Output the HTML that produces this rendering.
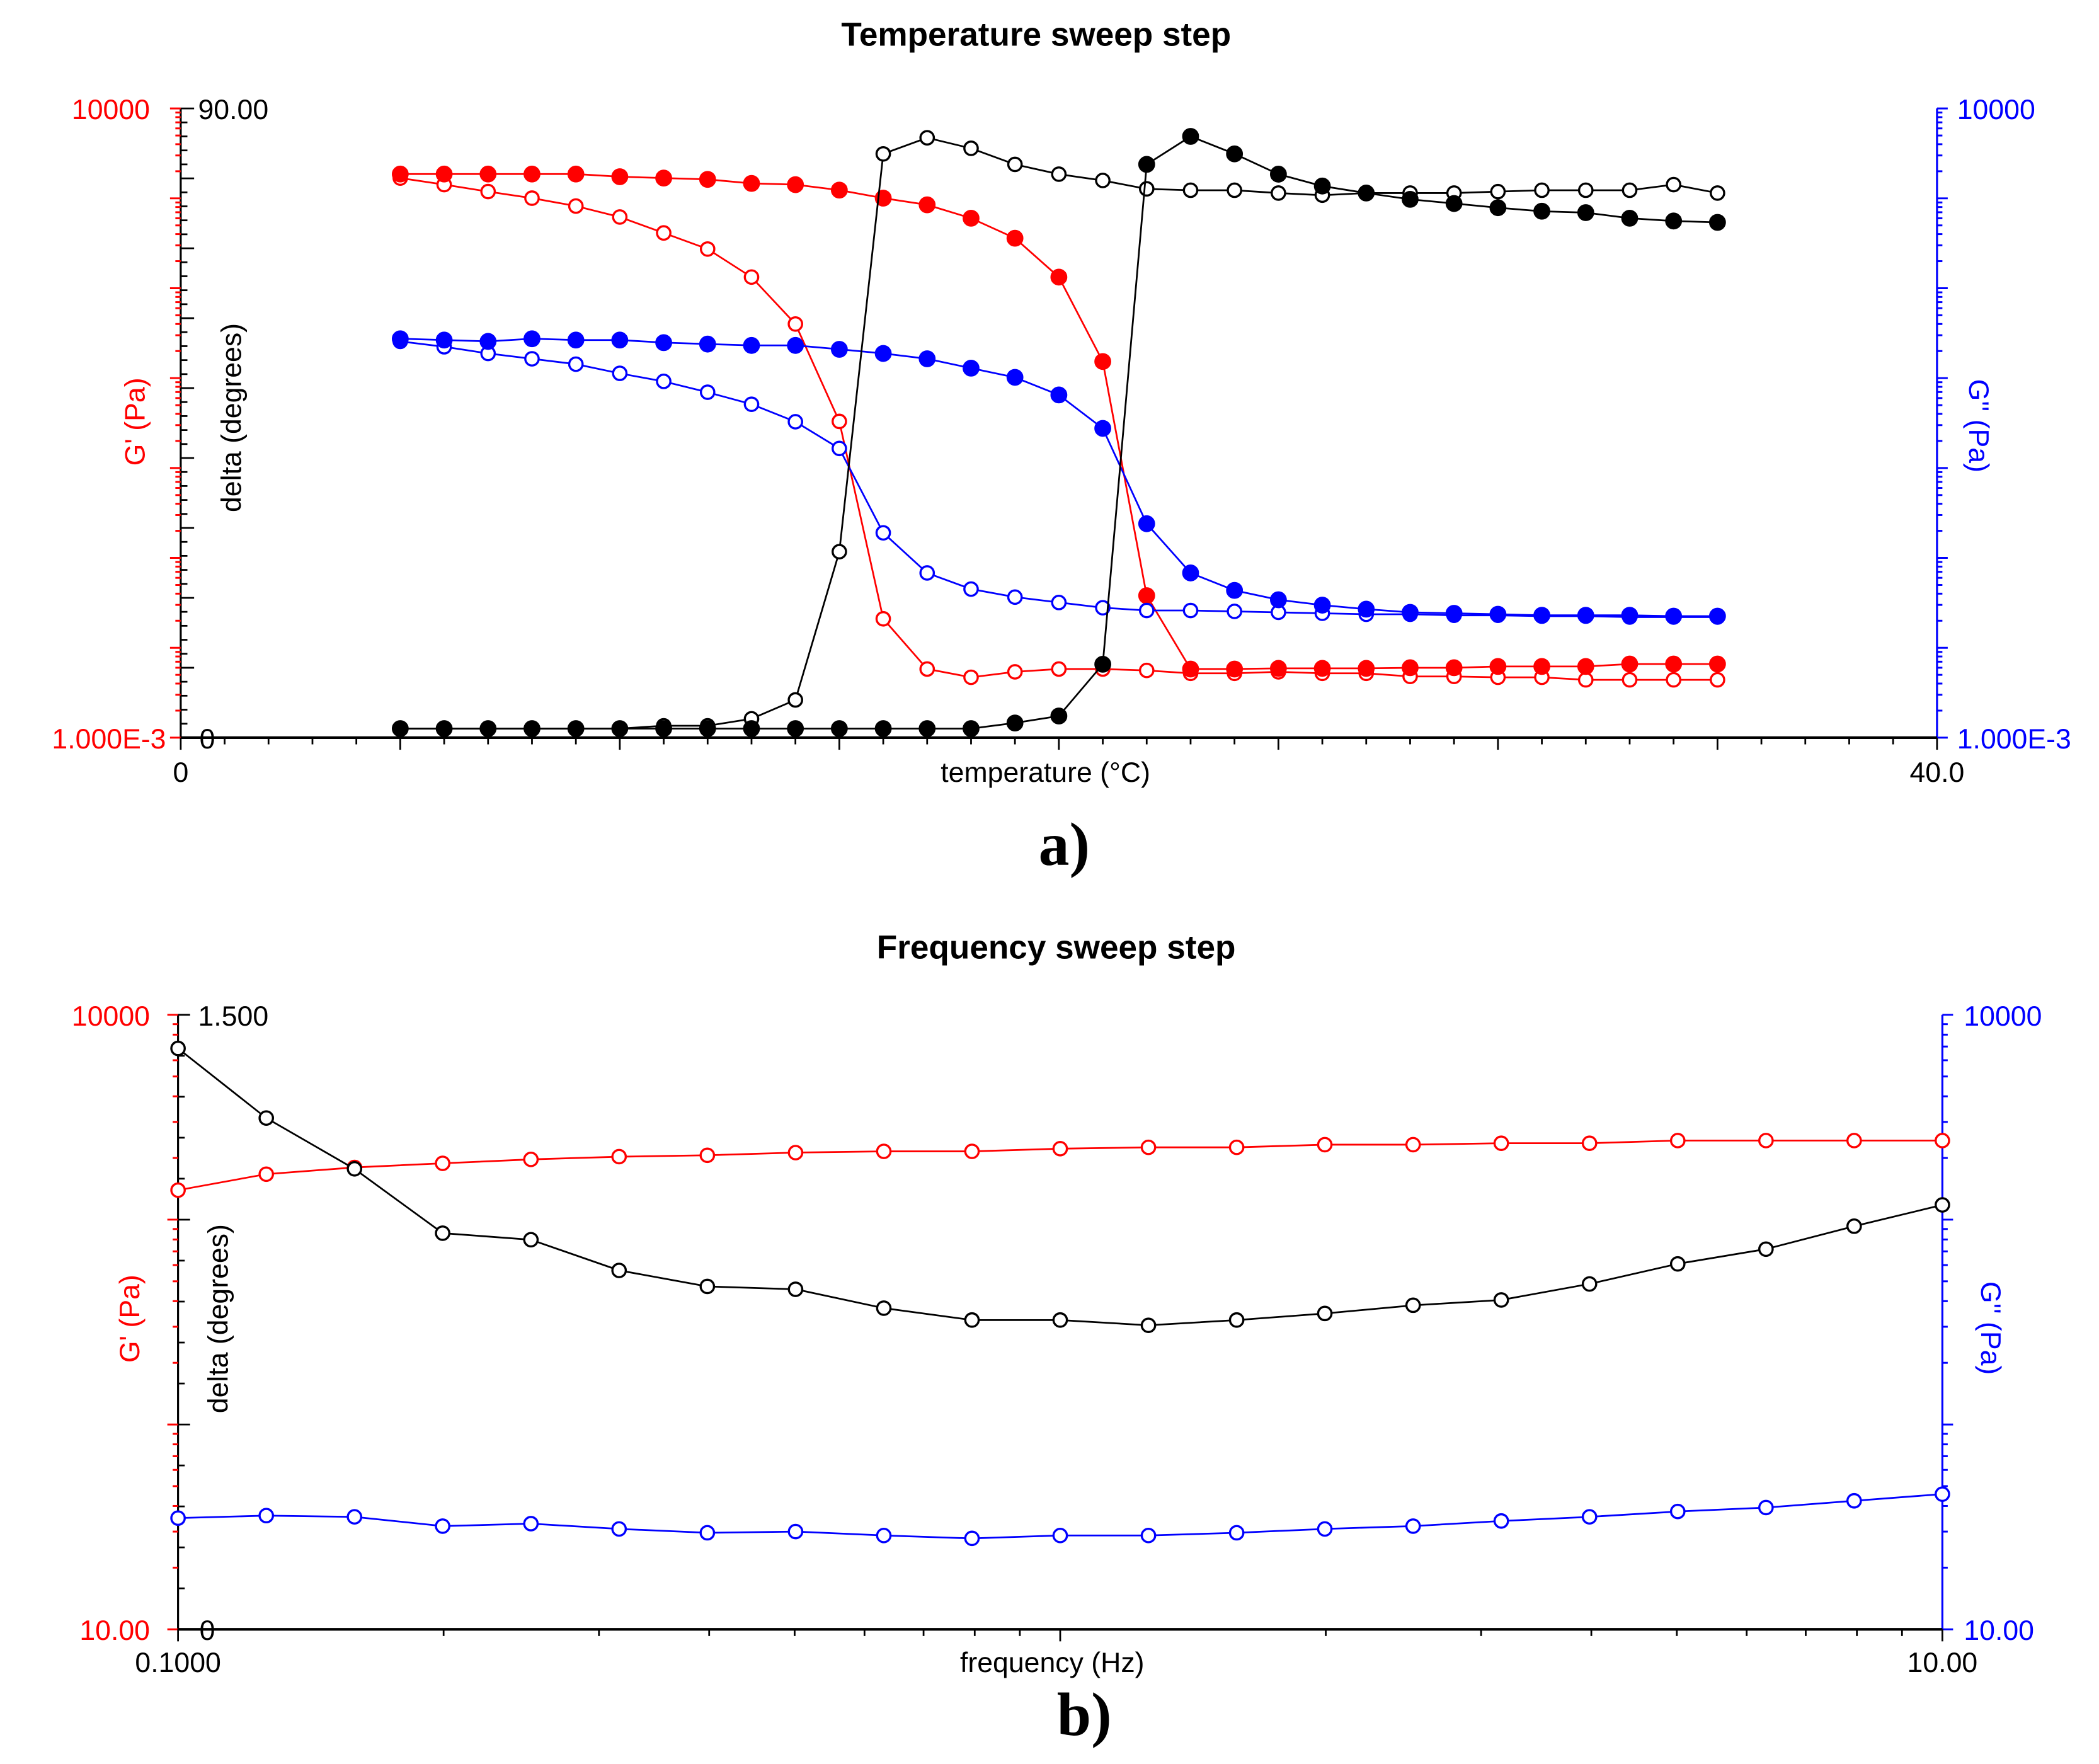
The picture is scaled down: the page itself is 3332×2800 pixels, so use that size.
<!DOCTYPE html>
<html><head><meta charset="utf-8"><style>
html,body{margin:0;padding:0;background:#fff;}
svg{display:block;}
text{font-family:"Liberation Sans",sans-serif;}
</style></head><body>
<svg id="s" width="3332" height="2800" viewBox="0 0 1568 1317.6" preserveAspectRatio="none" xmlns="http://www.w3.org/2000/svg">
<g id="gA"></g>
<g id="gB"></g>
</svg>
<script>
// ---------- Chart a data (temperature sweep) ----------
const tempC = [5,6,7,8,9,10,11,12,13,14,15,16,17,18,19,20,21,22,23,24,25,26,27,28,29,30,31,32,33,34,35];
const gpHeat = [1680,1420,1190,1005,820,620,412,273,133,40,3.3,0.021,0.0058,0.0047,0.0054,0.0058,0.0058,0.0056,0.0052,0.0052,0.0054,0.0052,0.0052,0.0048,0.0048,0.0047,0.0047,0.0044,0.0044,0.0044,0.0044];
const gpCool = [1862,1862,1862,1862,1862,1740,1680,1625,1465,1420,1235,1005,847,601,360,133,15.3,0.038,0.0058,0.0058,0.0059,0.0059,0.0059,0.0060,0.0060,0.0062,0.0062,0.0062,0.0066,0.0066,0.0066];
const gppHeat = [25.6,22.3,18.8,16.4,14.3,11.3,9.2,6.97,5.12,3.27,1.65,0.19,0.068,0.045,0.0366,0.0319,0.0279,0.026,0.026,0.0254,0.0248,0.0242,0.0236,0.0236,0.023,0.023,0.0225,0.0225,0.022,0.022,0.022];
const gppCool = [27.4,26.5,25.6,27.4,26.5,26.5,24.8,23.9,23.1,23.1,20.9,18.8,16.4,12.9,10.2,6.5,2.76,0.24,0.068,0.0435,0.0342,0.0298,0.0269,0.0248,0.0242,0.0236,0.023,0.023,0.023,0.0225,0.0225];
const deltaHeat = [1.3,1.3,1.3,1.3,1.3,1.3,1.7,1.7,2.7,5.4,26.6,83.5,85.8,84.3,82.0,80.6,79.7,78.5,78.3,78.3,77.9,77.6,77.9,77.9,77.9,78.1,78.3,78.3,78.3,79.1,77.9];
const deltaCool = [1.3,1.3,1.3,1.3,1.3,1.3,1.3,1.3,1.3,1.3,1.3,1.3,1.3,1.3,2.1,3.1,10.5,82.0,86.0,83.5,80.6,78.9,77.9,77.0,76.4,75.8,75.3,75.1,74.3,73.9,73.7];
const xTicksA = ["0","40.0"];
// ---------- Chart b data (frequency sweep) ----------
const freqHz = [0.1,0.1259,0.1585,0.1995,0.2512,0.3162,0.3981,0.5012,0.631,0.7943,1,1.259,1.585,1.995,2.512,3.162,3.981,5.012,6.31,7.943,10];
const gpFreq = [1393,1667,1798,1883,1968,2030,2061,2124,2155,2155,2220,2254,2254,2323,2323,2360,2360,2432,2432,2432,2432];
const gppFreq = [34.9,35.9,35.4,31.9,32.8,30.9,29.6,30.0,28.7,27.8,28.7,28.7,29.6,30.9,31.9,33.8,35.4,37.6,39.3,42.4,45.7];
const deltaFreq = [1.418,1.248,1.124,0.967,0.951,0.876,0.837,0.830,0.784,0.755,0.755,0.742,0.755,0.771,0.791,0.804,0.843,0.892,0.928,0.984,1.036];

const NS="http://www.w3.org/2000/svg";
function el(parent,tag,attrs,txt){const e=document.createElementNS(NS,tag);for(const k in attrs)e.setAttribute(k,attrs[k]);if(txt!==undefined)e.textContent=txt;parent.appendChild(e);return e;}
function line(p,x1,y1,x2,y2,c,w){return el(p,'line',{x1,y1,x2,y2,stroke:c,'stroke-width':w||1.5});}
function txt(p,x,y,s,c,size,anchor,name,extra){const t=el(p,'text',Object.assign({x,y,fill:c,'font-size':size,'text-anchor':anchor||'start'},extra||{}),s);return t;}

function series(p,xs,ys,xf,yf,color,filled,name){
  const g=el(p,'g',{});
  
  
  const pts=xs.map((x,i)=>xf(x).toFixed(1)+','+yf(ys[i]).toFixed(1)).join(' ');
  el(g,'polyline',{points:pts,fill:'none',stroke:color,'stroke-width':1.3});
  xs.forEach((x,i)=>{
    const c=el(g,'circle',{cx:xf(x),cy:yf(ys[i]),r:filled?5.5:5,fill:filled?color:'#fff',stroke:color,'stroke-width':1.6});
    
    
  });
}
function logTicks(p,x,yf,lo,hi,color,dir){
  for(let d=lo;d<=hi;d++){
    for(let m=1;m<=9;m++){
      const v=Math.pow(10,d)*m; if(d===hi&&m>1)break;
      const y=yf(v); const L=m===1?8:4;
      line(p,x,y,x+dir*L,y,color,1.4);
    }
  }
}
const SERIF='font-family:"Liberation Serif",serif;font-weight:bold;';

// ================= Chart A =================
(function(){
  const g=document.getElementById('gA');
  const L=135,R=1447,T=81,B=551;
  const xf=t=>L+(t-0)/(40-0)*(R-L);
  const yLog=v=>B-(Math.log10(v)-(-3))/7*(B-T);
  const yD=v=>B-v/90*(B-T);
  txt(g,774,34,'Temperature sweep step','#000',25,'middle','chart-a-title',{'font-weight':'bold'});
  line(g,L,T,L,B,'#000',1.5);
  line(g,R,T,R,B,'#00f',1.5);
  line(g,L,B,R,B,'#000',2);
  logTicks(g,L,yLog,-3,4,'#f00',-1);
  logTicks(g,R,yLog,-3,4,'#00f',1);
  for(let d=0;d<=90;d+=2){const y=yD(d);line(g,L,y,L+(d%10===0?10:5),y,'#000',1.3);}
  for(let t=0;t<=40;t++){const x=xf(t);line(g,x,B,x,B+(t%5===0?9:5),'#000',1.3);}
  txt(g,112,89,'10000','#f00',21,'end','left-axis-max-label');
  txt(g,148,89,'90.00','#000',21,'start','delta-axis-max-label');
  txt(g,124,559,'1.000E-3','#f00',21,'end','left-axis-min-label');
  txt(g,149,559,'0','#000',21,'start','delta-axis-min-label');
  txt(g,1462,89,'10000','#00f',21,'start','right-axis-max-label');
  txt(g,1462,559,'1.000E-3','#00f',21,'start','right-axis-min-label');
  txt(g,xf(0),584,xTicksA[0],'#000',21,'middle','x-tick-0');
  txt(g,xf(40),584,xTicksA[1],'#000',21,'middle','x-tick-40');
  txt(g,781,584,'temperature (°C)','#000',21,'middle','x-axis-title');
  txt(g,0,0,"G' (Pa)",'#f00',21,'middle','left-axis-title',{transform:'translate(108,315) rotate(-90)'});
  txt(g,0,0,'delta (degrees)','#000',21,'middle','delta-axis-title',{transform:'translate(180,312) rotate(-90)'});
  txt(g,0,0,"G'' (Pa)",'#00f',21,'middle','right-axis-title',{transform:'translate(1471,318) rotate(90)'});
  txt(g,795,646,'a)','#000',46,'middle','panel-a-label',{style:SERIF});
  series(g,tempC,gpHeat,xf,yLog,'#f00',false,'gprime-heating-series');
  series(g,tempC,gpCool,xf,yLog,'#f00',true,'gprime-cooling-series');
  series(g,tempC,gppHeat,xf,yLog,'#00f',false,'gdoubleprime-heating-series');
  series(g,tempC,gppCool,xf,yLog,'#00f',true,'gdoubleprime-cooling-series');
  series(g,tempC,deltaHeat,xf,yD,'#000',false,'delta-heating-series');
  series(g,tempC,deltaCool,xf,yD,'#000',true,'delta-cooling-series');
})();

// ================= Chart B =================
(function(){
  const g=document.getElementById('gB');
  const L=133,R=1451,T=758,B=1217;
  const xf=f=>L+(Math.log10(f)-(-1))/2*(R-L);
  const yLog=v=>B-(Math.log10(v)-1)/3*(B-T);
  const yD=v=>B-v/1.5*(B-T);
  txt(g,789,716,'Frequency sweep step','#000',25,'middle','chart-b-title',{'font-weight':'bold'});
  line(g,L,T,L,B,'#000',1.5);
  line(g,R,T,R,B,'#00f',1.5);
  line(g,L,B,R,B,'#000',2);
  logTicks(g,L,yLog,1,4,'#f00',-1);
  logTicks(g,R,yLog,1,4,'#00f',1);
  for(let k=0;k<=15;k++){const y=yD(k*0.1);line(g,L,y,L+(k%5===0?9:5),y,'#000',1.3);}
  for(let d=-1;d<=1;d++){for(let m=1;m<=9;m++){if(d===1&&m>1)break;const x=xf(Math.pow(10,d)*m);line(g,x,B,x,B+(m===1?9:5),'#000',1.3);}}
  txt(g,112,766,'10000','#f00',21,'end','left-axis-max-label');
  txt(g,148,766,'1.500','#000',21,'start','delta-axis-max-label');
  txt(g,112,1225,'10.00','#f00',21,'end','left-axis-min-label');
  txt(g,149,1225,'0','#000',21,'start','delta-axis-min-label');
  txt(g,1467,766,'10000','#00f',21,'start','right-axis-max-label');
  txt(g,1467,1225,'10.00','#00f',21,'start','right-axis-min-label');
  txt(g,L,1249,'0.1000','#000',21,'middle','x-tick-0.1');
  txt(g,R,1249,'10.00','#000',21,'middle','x-tick-10');
  txt(g,786,1249,'frequency (Hz)','#000',21,'middle','x-axis-title');
  txt(g,0,0,"G' (Pa)",'#f00',21,'middle','left-axis-title',{transform:'translate(104,985) rotate(-90)'});
  txt(g,0,0,'delta (degrees)','#000',21,'middle','delta-axis-title',{transform:'translate(170,985) rotate(-90)'});
  txt(g,0,0,"G'' (Pa)",'#00f',21,'middle','right-axis-title',{transform:'translate(1480,992) rotate(90)'});
  txt(g,810,1296,'b)','#000',46,'middle','panel-b-label',{style:SERIF});
  series(g,freqHz,gpFreq,xf,yLog,'#f00',false,'gprime-frequency-series');
  series(g,freqHz,gppFreq,xf,yLog,'#00f',false,'gdoubleprime-frequency-series');
  series(g,freqHz,deltaFreq,xf,yD,'#000',false,'delta-frequency-series');
})();
</script>
</body></html>
